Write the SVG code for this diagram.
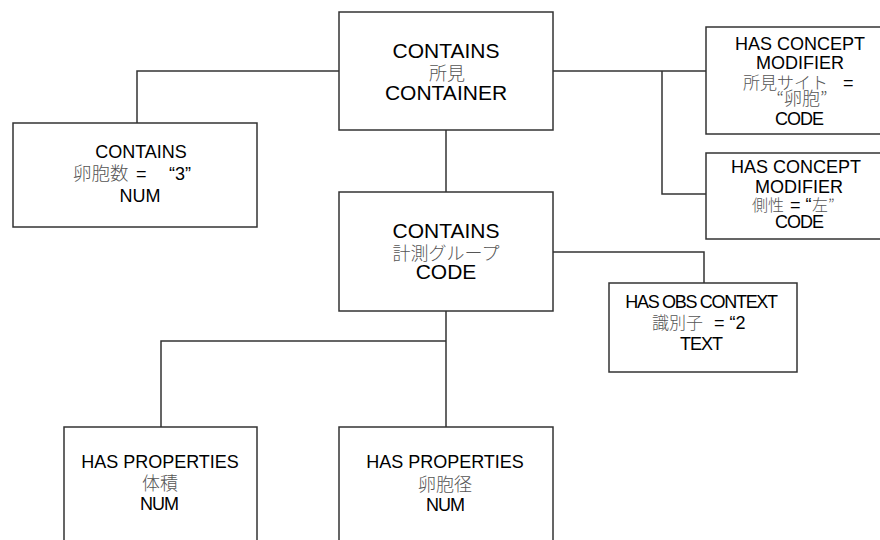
<svg xmlns="http://www.w3.org/2000/svg" width="880" height="540" viewBox="0 0 880 540">
<style>
.box{fill:#fff;stroke:#333;stroke-width:1.5}
.conn{fill:none;stroke:#333;stroke-width:1.5}
.t{font-family:"Liberation Sans",Arial,"Noto Sans CJK JP",sans-serif;fill:#000;text-anchor:middle;font-size:18px}
.big{font-size:21px}
.cjk{font-family:"Noto Sans CJK JP",sans-serif;fill:#555;font-weight:300}
.lat{font-family:"Liberation Sans",Arial,sans-serif;fill:#000}
.cond{letter-spacing:-1px}
.s{text-anchor:start}
</style>
<rect width="880" height="540" fill="#fff"/>
<g id="connectors">
<path class="conn" d="M339,71 H137 V123"/>
<path class="conn" d="M446,130 V192"/>
<path class="conn" d="M553,71 H706 M662,71 V194 H706"/>
<path class="conn" d="M553,252 H704 V283"/>
<path class="conn" d="M446,311 V427 M446,341 H161 V427"/>
</g>
<g id="n_container">
<rect class="box" x="339" y="12" width="214" height="118"/>
<text class="t big" x="446" y="58">CONTAINS</text>
<text class="t cjk" x="447" y="80" font-size="20">所見</text>
<text class="t big" x="446" y="100">CONTAINER</text>
</g>
<g id="n_count">
<rect class="box" x="13" y="123" width="244" height="104"/>
<text class="t" x="141" y="158">CONTAINS</text>
<text class="t s"><tspan class="cjk" x="73" y="180" font-size="18.5">卵胞数</tspan><tspan class="lat" x="136" y="180">=</tspan><tspan class="lat" x="169" y="180">“3”</tspan></text>
<text class="t" x="140" y="202">NUM</text>
</g>
<g id="n_group">
<rect class="box" x="339" y="192" width="214" height="119"/>
<text class="t big" x="446" y="238">CONTAINS</text>
<text class="t cjk" x="446" y="260" font-size="20">計測グループ</text>
<text class="t big" x="446" y="279">CODE</text>
</g>
<g id="n_site">
<rect class="box" x="706" y="27" width="180" height="107"/>
<text class="t" x="800" y="50">HAS CONCEPT</text>
<text class="t" x="800" y="69">MODIFIER</text>
<text class="t s"><tspan class="cjk" x="743" y="89" font-size="17">所見サイト</tspan><tspan class="lat" x="843" y="89">=</tspan></text>
<text class="t cjk" x="802" y="105" font-size="17">“卵胞”</text>
<text class="t cond" x="799" y="125">CODE</text>
</g>
<g id="n_laterality">
<rect class="box" x="706" y="153" width="180" height="86"/>
<text class="t" x="796" y="173">HAS CONCEPT</text>
<text class="t" x="799" y="193">MODIFIER</text>
<text class="t s"><tspan class="cjk" x="752" y="211" font-size="16">側性</tspan><tspan class="lat" x="790" y="211">= “</tspan><tspan class="cjk" x="812" y="211" font-size="16">左”</tspan></text>
<text class="t cond" x="799" y="228">CODE</text>
</g>
<g id="n_obs">
<rect class="box" x="609" y="283" width="188" height="89"/>
<text class="t" x="701" y="308" letter-spacing="-1.3">HAS OBS CONTEXT</text>
<text class="t s"><tspan class="cjk" x="652" y="329" font-size="17">識別子</tspan><tspan class="lat" x="714" y="329">= “2</tspan></text>
<text class="t cond" x="701" y="350">TEXT</text>
</g>
<g id="n_volume">
<rect class="box" x="64" y="427" width="193" height="130"/>
<text class="t" x="160" y="468">HAS PROPERTIES</text>
<text class="t cjk" x="160" y="490" font-size="17.5">体積</text>
<text class="t cond" x="159" y="510">NUM</text>
</g>
<g id="n_diameter">
<rect class="box" x="339" y="427" width="214" height="130"/>
<text class="t" x="445" y="468">HAS PROPERTIES</text>
<text class="t cjk" x="445" y="491" font-size="19">卵胞径</text>
<text class="t cond" x="445" y="511">NUM</text>
</g>
</svg>
